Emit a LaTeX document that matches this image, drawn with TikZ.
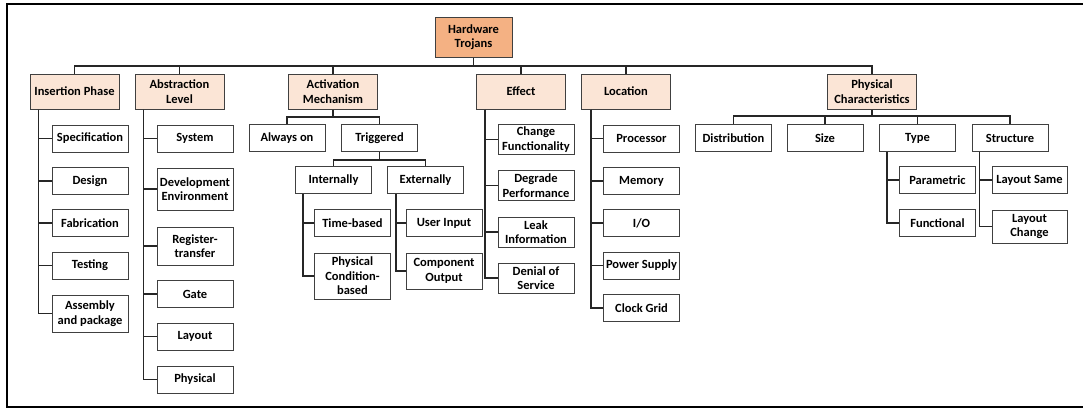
\documentclass[tikz,border=0pt]{standalone}
\usepackage{fontspec}
\setmainfont{Carlito}
\definecolor{rootorange}{HTML}{F4B183}
\definecolor{catpeach}{HTML}{FBE5D6}
\definecolor{boxline}{HTML}{404040}

\begin{document}
\begin{tikzpicture}[x=1pt, y=-1pt,
  box/.style={draw=boxline, line width=1pt, align=center, inner sep=1pt,
              font=\fontsize{12.5}{14.5}\selectfont\bfseries},
  root/.style={box, fill=rootorange, minimum width=77pt, minimum height=40pt},
  cat/.style={box, fill=catpeach, minimum width=89pt, minimum height=35pt},
  leaf/.style={box, fill=white, minimum width=76pt, minimum height=27pt},
  link/.style={draw=black!85, line width=1.2pt},
]
\useasboundingbox (0,0) rectangle (1083,410);
\draw[line width=2pt] (7,4) rectangle (1100,407);

\node[root] (ht) at (473.5,37) {Hardware\\Trojans};

\node[cat] (ins) at (74.5,91.5)  {Insertion Phase};
\node[cat] (abs) at (179.5,91.5) {Abstraction\\Level};
\node[cat] (act) at (333,91.5)   {Activation\\Mechanism};
\node[cat] (eff) at (521,91.5)   {Effect};
\node[cat] (loc) at (626,91.5)   {Location};
\node[cat] (phy) at (872,91.5)   {Physical\\Characteristics};

% insertion phase
\node[leaf] (spec) at (90,138.5) {Specification};
\node[leaf] (des)  at (90,181)   {Design};
\node[leaf] (fab)  at (90,223)   {Fabrication};
\node[leaf] (tst)  at (90,265.5) {Testing};
\node[leaf, minimum height=37pt] (asm) at (90,313.5) {Assembly\\and package};

% abstraction level
\node[leaf] (sys)  at (195,138.5) {System};
\node[leaf, minimum height=42pt] (dev) at (195,189) {Development\\Environment};
\node[leaf, minimum height=38pt] (rtl) at (195,246) {Register-\\transfer};
\node[leaf] (gate) at (195,294)   {Gate};
\node[leaf] (lay)  at (195,336.5) {Layout};
\node[leaf] (phys) at (195,379.5) {Physical};

% activation mechanism
\node[leaf] (alw)  at (287,138)   {Always on};
\node[leaf] (trg)  at (379.5,138) {Triggered};
\node[leaf] (intl) at (333.5,180) {Internally};
\node[leaf] (extl) at (425.5,180) {Externally};
\node[leaf] (tim)  at (352.5,223) {Time-based};
\node[leaf, minimum height=46pt] (pcb) at (352.5,276) {Physical\\Condition-\\based};
\node[leaf] (usr)  at (444,223)   {User Input};
\node[leaf, minimum height=36pt] (cmp) at (444,271) {Component\\Output};

% effect
\node[leaf, minimum height=30pt] (chg)  at (536,139.5) {Change\\Functionality};
\node[leaf, minimum height=30pt] (deg)  at (536,185.5) {Degrade\\Performance};
\node[leaf, minimum height=30pt] (leak) at (536,232)   {Leak\\Information};
\node[leaf, minimum height=30pt] (dos)  at (536,278)   {Denial of\\Service};

% location
\node[leaf] (proc) at (641.5,138.5) {Processor};
\node[leaf] (mem)  at (641.5,181)   {Memory};
\node[leaf] (io)   at (641.5,223)   {I/O};
\node[leaf] (pwr)  at (641.5,265.5) {Power Supply};
\node[leaf] (clk)  at (641.5,308)   {Clock Grid};

% physical characteristics
\node[leaf] (dist)  at (733.5,138) {Distribution};
\node[leaf] (size)  at (825,138)   {Size};
\node[leaf] (type)  at (917.5,138) {Type};
\node[leaf] (struc) at (1010,138)  {Structure};
\node[leaf] (par)   at (937.5,180) {Parametric};
\node[leaf] (fun)   at (937.5,223) {Functional};
\node[leaf, minimum width=75pt] (lsame) at (1029.5,180) {Layout Same};
\node[leaf, minimum width=75pt, minimum height=33pt] (lchg) at (1029.5,226.5) {Layout\\Change};

% buses
\coordinate (bus)    at (ht.south |- 0,66);
\coordinate (actbar) at (act.south |- 0,117);
\coordinate (trgbar) at (trg.south |- 0,160);
\coordinate (phybar) at (phy.south |- 0,116);

\draw[link] (ht) -- (bus);
\foreach \c in {ins,abs,act,eff,loc,phy}
  \draw[link] (\c.north) |- (bus);

\draw[link] (act) -- (actbar);
\foreach \c in {alw,trg}
  \draw[link] (\c.north) |- (actbar);
\draw[link] (trg) -- (trgbar);
\foreach \c in {intl,extl}
  \draw[link] (\c.north) |- (trgbar);
\draw[link] (phy) -- (phybar);
\foreach \c in {dist,size,type,struc}
  \draw[link] (\c.north) |- (phybar);

% trunks
\foreach \c in {spec,des,fab,tst,asm}
  \draw[link] ([xshift=9pt]ins.south west) |- (\c.west);
\foreach \c in {sys,dev,rtl,gate,lay,phys}
  \draw[link] ([xshift=9pt]abs.south west) |- (\c.west);
\foreach \c in {tim,pcb}
  \draw[link] ([xshift=8pt]intl.south west) |- (\c.west);
\foreach \c in {usr,cmp}
  \draw[link] ([xshift=9pt]extl.south west) |- (\c.west);
\foreach \c in {chg,deg,leak,dos}
  \draw[link] ([xshift=9pt]eff.south west) |- (\c.west);
\foreach \c in {proc,mem,io,pwr,clk}
  \draw[link] ([xshift=10pt]loc.south west) |- (\c.west);
\foreach \c in {par,fun}
  \draw[link] ([xshift=8pt]type.south west) |- (\c.west);
\foreach \c in {lsame,lchg}
  \draw[link] ([xshift=8pt]struc.south west) |- (\c.west);
\end{tikzpicture}
\end{document}
